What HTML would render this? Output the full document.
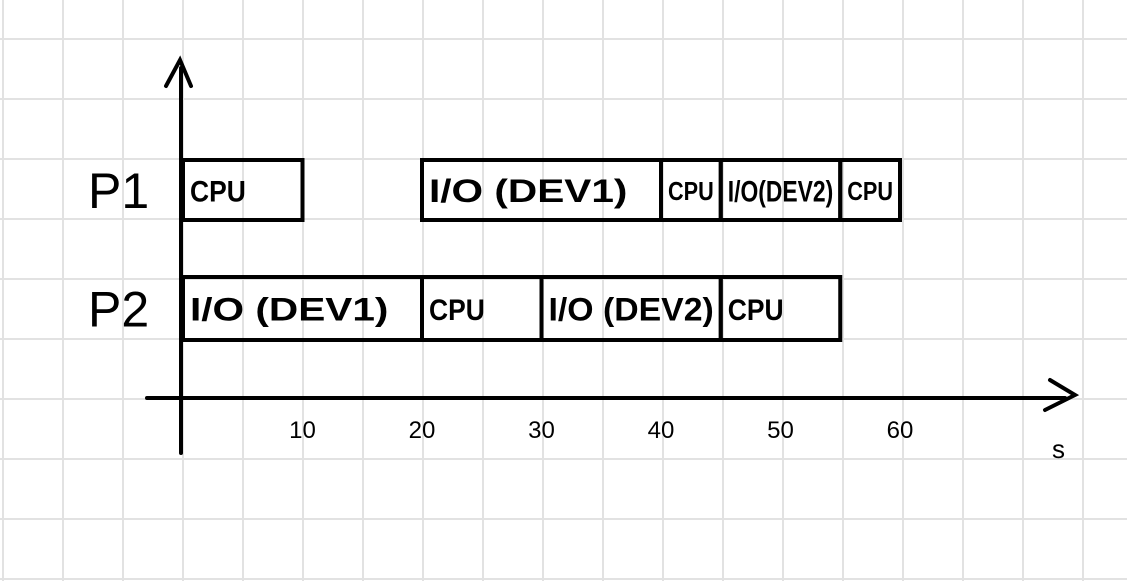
<!DOCTYPE html>
<html><head><meta charset="utf-8"><style>
html,body{margin:0;padding:0;background:#fff;}
svg{display:block;}
text{font-family:"Liberation Sans",sans-serif;fill:#000;}
</style></head><body>
<svg id="chart" width="1127" height="581" viewBox="0 0 1127 581">
<g id="grid"></g>
<g id="marks"></g>
</svg>
<script>
const rows = ["P1","P2"];
const taskRow = [0,0,0,0,0,1,1,1,1];
const taskStart = [0,20,40,45,55,0,20,30,45];
const taskEnd = [10,40,45,55,60,20,30,45,55];
const taskLabel = ["CPU","I/O (DEV1)","CPU","I/O(DEV2)","CPU","I/O (DEV1)","CPU","I/O (DEV2)","CPU"];
const tickValues = [10,20,30,40,50,60];
const tickLabels = ["10","20","30","40","50","60"];

const NS="http://www.w3.org/2000/svg";
const x0=183, pxPer=11.95;
function xs(v){return x0+v*pxPer;}
const rowTop=[160,277], rowH=[60,63];
function mk(tag,attrs,parent){const e=document.createElementNS(NS,tag);for(const k in attrs)e.setAttribute(k,attrs[k]);parent.appendChild(e);return e;}
const grid=document.getElementById('grid');
for(let x=3;x<1127;x+=60){const l=mk('line',{x1:x,y1:0,x2:x,y2:581,stroke:'#e2e2e2','stroke-width':2},grid);

}
for(let y=39;y<581;y+=60){const l=mk('line',{x1:0,y1:y,x2:1127,y2:y,stroke:'#e2e2e2','stroke-width':2},grid);

}
const g=document.getElementById('marks');
let a=mk('line',{x1:181,y1:68,x2:181,y2:453,stroke:'#000','stroke-width':4,'stroke-linecap':'round'},g);


a=mk('path',{d:'M166 86 L180 60 L191 86',fill:'none',stroke:'#000','stroke-width':4,'stroke-linecap':'round'},g);


a=mk('line',{x1:147,y1:398,x2:1065,y2:398,stroke:'#000','stroke-width':4,'stroke-linecap':'round'},g);


a=mk('path',{d:'M1050 380 L1075 395 L1045 410',fill:'none',stroke:'#000','stroke-width':4,'stroke-linecap':'round'},g);


a=mk('text',{x:1052,y:458,'font-size':26},g);a.textContent='s';


tickValues.forEach((v,i)=>{const t=mk('text',{x:xs(v),y:438,'font-size':24,'text-anchor':'middle'},g);t.textContent=tickLabels[i];

});
rows.forEach((r,i)=>{const t=mk('text',{x:88,y:rowTop[i]+rowH[i]/2+18,'font-size':50},g);t.textContent=r;

});
taskStart.forEach((s,i)=>{const r=taskRow[i];const x1=xs(s),x2=xs(taskEnd[i]);
const rc=mk('rect',{x:x1,y:rowTop[r],width:x2-x1,height:rowH[r],fill:'none',stroke:'#000','stroke-width':4},g);


const w=x2-x1;const fs=w<70?26:(w<130?30:32);
const t=mk('text',{x:x1+7,y:rowTop[r]+rowH[r]/2+fs*0.38,'font-size':fs,'font-weight':'bold'},g);t.textContent=taskLabel[i];
t.setAttribute('textLength',Math.min(w-14,taskLabel[i].length*fs*0.62));
t.setAttribute('lengthAdjust','spacingAndGlyphs');

});
</script>
</body></html>
